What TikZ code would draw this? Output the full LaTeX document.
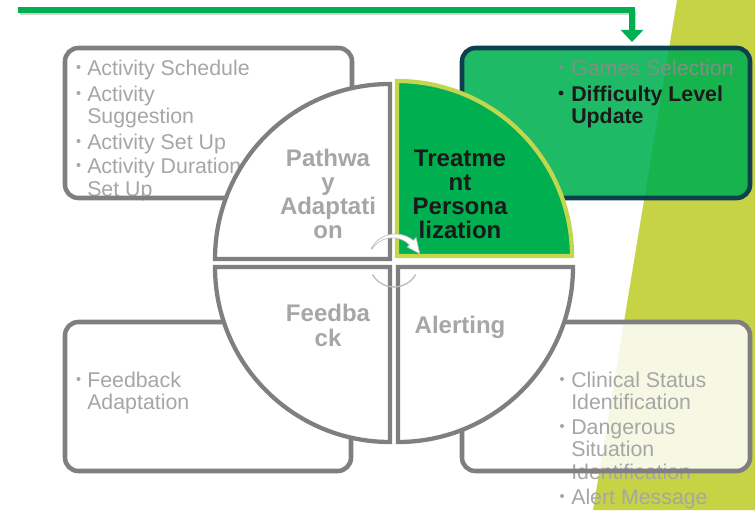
\documentclass[tikz,border=0pt]{standalone}
\usepackage{fontspec}
\setmainfont{Liberation Sans}
\usetikzlibrary{arrows.meta}
\definecolor{ygreen}{HTML}{C5D344}
\definecolor{dgreen}{HTML}{00B050}
\definecolor{qgray}{HTML}{7F7F7F}
\definecolor{tgray}{HTML}{A6A6A6}
\definecolor{boxteal}{HTML}{0E3F4F}
\definecolor{qborder}{HTML}{C3D64E}
\definecolor{gtext}{HTML}{7E9183}
\definecolor{dtext}{HTML}{1A1A1A}
\definecolor{arcgray}{HTML}{BDBDBD}
\begin{document}
\begin{tikzpicture}[x=0.75pt,y=-0.75pt,
  boxtxt/.style={anchor=base west, inner sep=0pt, text=tgray, font=\fontsize{16}{16}\selectfont},
  boldtxt/.style={anchor=base west, inner sep=0pt, text=dtext, font=\bfseries\fontsize{16}{16}\selectfont},
  qtitle/.style={anchor=base, inner sep=0pt, text=tgray, font=\bfseries\fontsize{18}{18}\selectfont},
  qtitledark/.style={qtitle, text=dtext},
  boxline/.style={line width=3.4pt, rounded corners=10pt},
  quad/.style={line width=3.2pt, line join=miter},
  bul/.style={fill=tgray}]
\useasboundingbox (0,0) rectangle (755,510);
% background accent
\fill[ygreen] (677,0) -- (755,0) -- (755,510) -- (593,510) -- cycle;
% top arrow
\coordinate (arrS) at (18,10);
\coordinate (arrT) at (632,42);
\draw[black, opacity=0.18, line width=3.6pt] (19.5,13) -| (633.5,36);
\draw[dgreen, line width=3.8pt, -{Triangle[width=16.5pt,length=9pt]}] (arrS) -| (arrT);
% box fills
\fill[white, rounded corners=10pt] (65,48) rectangle (352,198);
\fill[dgreen, opacity=0.88, rounded corners=10pt] (462,48) rectangle (750,198);
\fill[white, rounded corners=10pt] (65,322) rectangle (351,471);
\fill[white, opacity=0.85, rounded corners=10pt] (462,322) rectangle (750,471);
% top-left box text
\fill[bul] (78.5,67) circle (2);
\node[boxtxt] (tl1) at (87,75) {Activity Schedule};
\fill[bul] (78.5,93) circle (2);
\node[boxtxt] (tl2) at (87,101) {Activity};
\node[boxtxt] (tl3) at (87,123) {Suggestion};
\fill[bul] (78.5,141) circle (2);
\node[boxtxt] (tl4) at (87,149) {Activity Set Up};
\fill[bul] (78.5,165) circle (2);
\node[boxtxt] (tl5) at (87,173) {Activity Duration};
\node[boxtxt] (tl6) at (87,196) {Set Up};
% top-right box text
\fill[gtext] (561,67) circle (2);
\node[boxtxt, text=gtext] (tr1) at (571,75) {Games Selection};
\fill[dtext] (561,93) circle (2.4);
\node[boldtxt] (tr2) at (571,101) {Difficulty Level};
\node[boldtxt] (tr3) at (571,123) {Update};
% bottom-left box text
\fill[bul] (78.5,379) circle (2);
\node[boxtxt] (bl1) at (87,387) {Feedback};
\node[boxtxt] (bl2) at (87,409) {Adaptation};
% bottom-right box text
\fill[bul] (562,379) circle (2);
\node[boxtxt] (br1) at (571,387) {Clinical Status};
\node[boxtxt] (br2) at (571,409) {Identification};
\fill[bul] (562,426) circle (2);
\node[boxtxt] (br3) at (571,434) {Dangerous};
\node[boxtxt] (br4) at (571,456) {Situation};
\node[boxtxt] (br5) at (571,479) {Identification};
\fill[bul] (562,496) circle (2);
\node[boxtxt] (br6) at (571,504) {Alert Message};
% box strokes
\draw[boxline, qgray] (65,48) rectangle (352,198);
\draw[boxline, boxteal] (462,48) rectangle (750,198);
\draw[boxline, qgray] (65,322) rectangle (351,471);
\draw[boxline, qgray] (462,322) rectangle (750,471);
% quadrants
\filldraw[quad, fill=white, draw=qgray] (390,259) -- (215,259) arc (180:270:175) -- cycle;
\filldraw[quad, fill=dgreen, draw=qborder] (397,256) -- (397,81) arc (270:360:175) -- cycle;
\filldraw[quad, fill=white, draw=qgray] (390,267) -- (390,442) arc (90:180:175) -- cycle;
\filldraw[quad, fill=white, draw=qgray] (398,267) -- (573,267) arc (0:90:175) -- cycle;
% quadrant titles
\node[qtitle] (pa1) at (328,166) {Pathwa};
\node[qtitle] (pa2) at (328,190) {y};
\node[qtitle] (pa3) at (328,214) {Adaptati};
\node[qtitle] (pa4) at (328,238) {on};
\node[qtitledark] (tp1) at (460,166) {Treatme};
\node[qtitledark] (tp2) at (460,190) {nt};
\node[qtitledark] (tp3) at (460,214) {Persona};
\node[qtitledark] (tp4) at (460,238) {lization};
\node[qtitle] (fb1) at (328,321) {Feedba};
\node[qtitle] (fb2) at (328,346) {ck};
\node[qtitle] (al1) at (460,333) {Alerting};
% central cycle arrows
\filldraw[fill=white, draw=arcgray, line width=0.5pt, shift={(394,262)}]
  plot[domain=-150:-48, samples=40, variable=\t] (\t:{26.4+(\t+150)/102*2.6})
  -- (-48:33) -- (-18:27) -- (-48:20)
  -- plot[domain=-48:-150, samples=40, variable=\t] (\t:{25.6-(\t+150)/102*2.6})
  -- cycle;
\draw[arcgray, line width=1pt, shift={(394,262)}] (150:25) arc (150:30:25);
\end{tikzpicture}
\end{document}
